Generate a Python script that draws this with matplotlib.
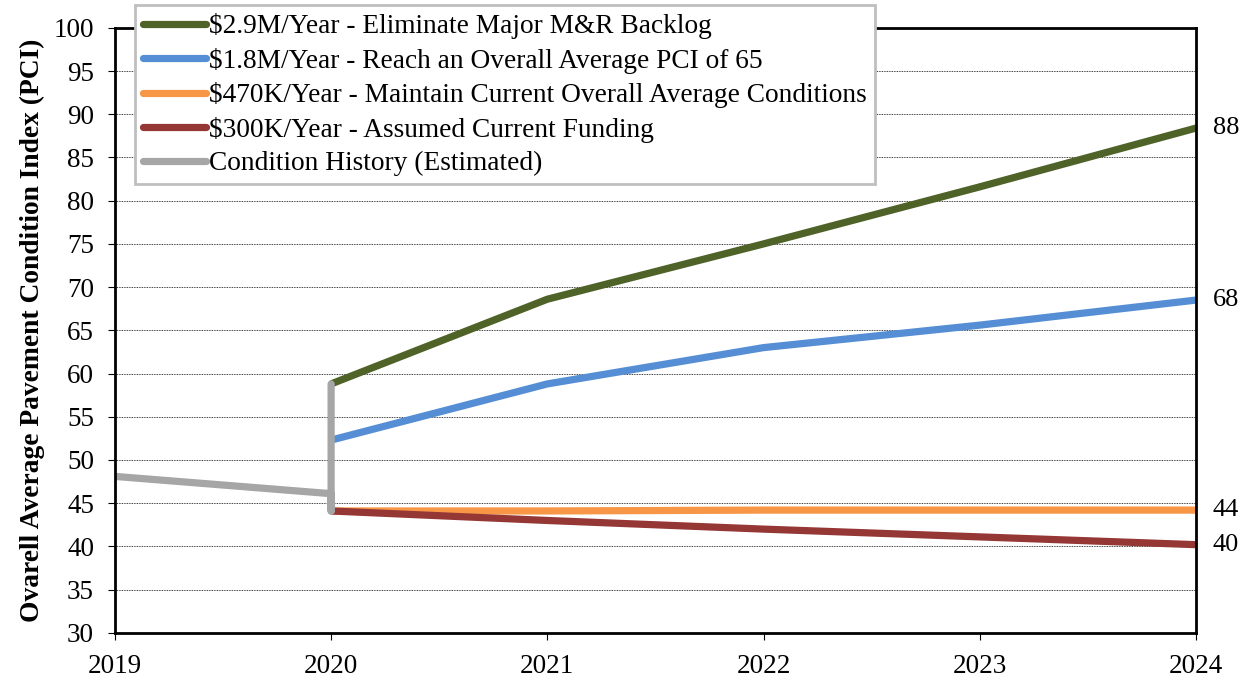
import matplotlib.pyplot as plt

plt.rcParams['font.family'] = ['Liberation Serif', 'DejaVu Serif']

years = [2019, 2020, 2021, 2022, 2023, 2024]
proj_years = [2020, 2021, 2022, 2023, 2024]

backlog = [58.8, 68.6, 75.0, 81.6, 88.4]
pci65 = [52.3, 58.8, 63.0, 65.6, 68.5]
maintain = [44.1, 44.1, 44.2, 44.2, 44.2]
current = [44.1, 43.0, 42.0, 41.1, 40.2]
hist_years = [2019, 2020, 2020, 2020]
history = [48.1, 46.1, 44.1, 58.8]

end_labels = ["88", "68", "44", "40"]

labels = [
    "$2.9M/Year - Eliminate Major M&R Backlog",
    "$1.8M/Year - Reach an Overall Average PCI of 65",
    "$470K/Year - Maintain Current Overall Average Conditions",
    "$300K/Year - Assumed Current Funding",
    "Condition History (Estimated)",
]
colors = ["#4f6228", "#558ed5", "#f79646", "#953735", "#a6a6a6"]

fig = plt.figure(figsize=(12.49, 6.79), dpi=100)
ax = fig.add_axes([0.092, 0.068, 0.8655, 0.891])

series = [backlog, pci65, maintain, current]
handles = []
for vals, lab, col in zip(series, labels[:4], colors[:4]):
    h, = ax.plot(proj_years, vals, color=col, lw=5.2, solid_capstyle='butt', label=lab)
    handles.append(h)
h, = ax.plot(hist_years, history, color=colors[4], lw=5.2, solid_capstyle='round',
             solid_joinstyle='round', label=labels[4])
handles.append(h)

for vals, txt in zip(series, end_labels):
    ax.annotate(txt, (2024, vals[-1]), xytext=(12, 0), textcoords='offset points',
                va='center', ha='left', fontsize=19, annotation_clip=False)

ax.set_xlim(2019, 2024)
ax.set_ylim(30, 100)
ax.set_xticks(years)
ax.set_yticks(range(30, 101, 5))
ax.tick_params(axis='both', labelsize=19.5, direction='out', length=5, width=0.8)
ax.tick_params(axis='y', pad=10)
ax.tick_params(axis='x', pad=10)
ax.yaxis.grid(True, linestyle=(0, (1, 1)), color='black', lw=0.6)
ax.set_axisbelow(True)
for s in ax.spines.values():
    s.set_linewidth(2)
    s.set_color('black')

ax.set_ylabel("Ovarell Average Pavement Condition Index (PCI)", fontsize=19.8,
              fontweight='bold', labelpad=6)

leg = fig.legend(handles=handles, labels=labels, loc='upper left',
                 bbox_to_anchor=(135 / 1249, 1 - 5 / 679), fontsize=19.7,
                 handlelength=2.3, handletextpad=0.1, labelspacing=0.31,
                 borderpad=0.3, borderaxespad=0, fancybox=False, framealpha=1)
leg.get_frame().set_edgecolor('#bfbfbf')
leg.get_frame().set_linewidth(2)
for lh in leg.get_lines():
    lh.set_solid_capstyle('round')

plt.savefig("out.png", dpi=100)
